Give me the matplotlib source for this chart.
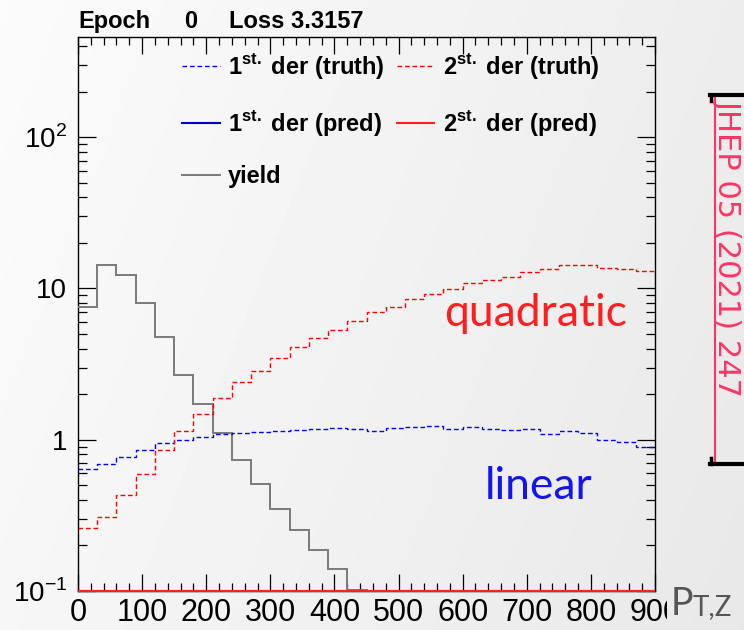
import numpy as np
import matplotlib
matplotlib.use("Agg")
from matplotlib import pyplot as plt
from matplotlib.lines import Line2D
from matplotlib.transforms import Bbox, TransformedBbox
from matplotlib.ticker import MultipleLocator, LogLocator, FuncFormatter, NullFormatter

plt.rcParams['font.family'] = ['Liberation Sans', 'DejaVu Sans']
plt.rcParams['mathtext.fontset'] = 'custom'
plt.rcParams['mathtext.rm'] = 'Liberation Sans'
plt.rcParams['mathtext.bf'] = 'Liberation Sans:bold'

# pT,Z bins (GeV), 30 bins of 30
bin_edges = np.arange(0, 901, 30)

first_der_truth = [0.64, 0.69, 0.77, 0.85, 0.95, 1.00, 1.04, 1.09, 1.11, 1.13,
                   1.14, 1.16, 1.17, 1.19, 1.17, 1.15, 1.19, 1.21, 1.23, 1.18,
                   1.21, 1.17, 1.16, 1.17, 1.09, 1.15, 1.11, 0.99, 0.96, 0.90]
second_der_truth = [0.26, 0.31, 0.43, 0.59, 0.85, 1.14, 1.48, 1.90, 2.42, 2.85,
                    3.47, 4.10, 4.72, 5.33, 6.08, 7.00, 7.55, 8.50, 9.20, 9.90,
                    10.8, 11.3, 12.0, 12.8, 13.5, 14.3, 14.3, 13.6, 13.5, 13.0]
first_der_pred = [0.0] * 30
second_der_pred = [0.0] * 30
yield_vals = [7.57, 14.2, 12.3, 7.98, 4.80, 2.70, 1.72, 1.10, 0.73, 0.513,
              0.348, 0.254, 0.186, 0.140, 0.102, 0, 0, 0, 0, 0,
              0, 0, 0, 0, 0, 0, 0, 0, 0, 0]

ylo, yhi = 0.1, 460

W, H = 744, 630
fig = plt.figure(figsize=(W / 100, H / 100), dpi=100)

# slide background gradient
bg = fig.add_axes([0, 0, 1, 1], zorder=-10)
gx, gy = np.meshgrid(np.linspace(0, 1, 200), np.linspace(0, 1, 200))
grad = 0.985 - 0.075 * (0.75 * gx + 0.25 * gy)
bg.imshow(grad, cmap='gray', vmin=0, vmax=1, aspect='auto', extent=[0, 1, 0, 1], origin='upper')
bg.axis('off')

L, R, B, T = 78, 655, 591, 37
ax = fig.add_axes([L / W, 1 - B / H, (R - L) / W, (B - T) / H])
ax.set_facecolor('none')


def clipped(v):
    return np.clip(np.asarray(v, dtype=float), ylo, None)


dash = (0, (3.4, 2.0))
ax.stairs(clipped(yield_vals), bin_edges, baseline=None, color='#7a7a7a', lw=1.4, label='yield', zorder=3)
ax.stairs(clipped(first_der_truth), bin_edges, baseline=None, color='#0000ff', lw=1.0,
          linestyle=dash, label=r'1$^{\mathbf{st.}}\;$der (truth)', zorder=4)
ax.stairs(clipped(second_der_truth), bin_edges, baseline=None, color='#ff0000', lw=1.0,
          linestyle=dash, label=r'2$^{\mathbf{st.}}\;$der (truth)', zorder=4)
ax.stairs(clipped(first_der_pred), bin_edges, baseline=None, color='#0000cc', lw=1.5,
          label=r'1$^{\mathbf{st.}}\;$der (pred)', zorder=5, clip_on=False)
ax.stairs(clipped(second_der_pred), bin_edges, baseline=None, color='#ff2020', lw=1.5,
          label=r'2$^{\mathbf{st.}}\;$der (pred)', zorder=6, clip_on=False)

ax.set_yscale('log')
ax.set_xlim(0, 900)
ax.set_ylim(ylo, yhi)

ax.xaxis.set_major_locator(MultipleLocator(100))
ax.xaxis.set_minor_locator(MultipleLocator(20))
ax.yaxis.set_major_locator(LogLocator(base=10, numticks=10))
ax.yaxis.set_minor_locator(LogLocator(base=10, subs=np.arange(2, 10), numticks=20))
ax.yaxis.set_minor_formatter(NullFormatter())


def ylab(v, pos):
    labels = {0.1: r'$10^{-1}$', 1: '1', 10: '10', 100: r'$10^{2}$'}
    for k, s in labels.items():
        if abs(v - k) < 1e-9 * max(k, 1):
            return s
    return ''


ax.yaxis.set_major_formatter(FuncFormatter(ylab))

ax.tick_params(which='both', direction='in', top=True, right=True, width=0.9, color='black')
ax.tick_params(axis='x', which='major', length=12, pad=5, labelsize=22)
ax.tick_params(axis='x', which='minor', length=6)
ax.tick_params(axis='y', which='major', length=13, pad=8, labelsize=20)
ax.tick_params(axis='y', which='minor', length=6.5)
for sp in ax.spines.values():
    sp.set_linewidth(1.0)

handles, labels = ax.get_legend_handles_labels()
order = [1, 3, 0, 2, 4]
hnd = [Line2D([], [], color=h.get_edgecolor(), lw=h.get_linewidth(), linestyle=h.get_linestyle())
       for h in handles]
leg = fig.legend([hnd[i] for i in order], [labels[i] for i in order], ncol=2,
                 loc='upper left', bbox_to_anchor=(182 / W, 1 - 51 / H), frameon=False,
                 prop={'weight': 'bold', 'size': 17}, handlelength=1.6, handletextpad=0.35,
                 labelspacing=1.15, columnspacing=0.5, borderpad=0, borderaxespad=0)

# title
fig.text(78 / W, 1 - 28 / H, 'Epoch', fontsize=17, weight='bold', va='baseline')
fig.text(184 / W, 1 - 28 / H, '0', fontsize=17, weight='bold', va='baseline')
fig.text(229 / W, 1 - 28 / H, 'Loss 3.3157', fontsize=17, weight='bold', va='baseline')

# slide annotations
fig.text(627 / W, 1 - 326 / H, 'quadratic', color='#ff1e1e', fontsize=32, family='Lato',
         ha='right', va='baseline')
fig.text(592 / W, 1 - 499 / H, 'linear', color='#1414f0', fontsize=32, family='Lato',
         ha='right', va='baseline')
fig.text(671 / W, 1 - 615 / H, 'P', color='#555555', fontsize=27, family='Lato', va='baseline')
fig.text(693 / W, 1 - 615 / H, 'T,Z', color='#555555', fontsize=20, family='Lato', va='baseline')

fig.text(728 / W, 1 - 99 / H, 'JHEP 05 (2021) 247', color='#ff3366', fontsize=22,
         family='DejaVu Sans', rotation=-90, ha='center', va='top')
fig.add_artist(Line2D([715 / W, 715 / W], [1 - 95 / H, 1 - 462 / H], color='#ff3366', lw=1.5))
fig.add_artist(Line2D([710 / W, 744 / W], [1 - 95 / H, 1 - 95 / H], color='black', lw=3))
fig.add_artist(Line2D([711 / W, 711 / W], [1 - 95 / H, 1 - 101 / H], color='black', lw=2.5))
fig.add_artist(Line2D([710 / W, 744 / W], [1 - 464 / H, 1 - 464 / H], color='black', lw=3))
fig.add_artist(Line2D([711 / W, 711 / W], [1 - 458 / H, 1 - 464 / H], color='black', lw=2.5))

# the slide's axis title hides the end of the last x label
fig.canvas.draw()
for tk in ax.xaxis.get_major_ticks():
    if abs(tk.get_loc() - 900) < 1e-6:
        tk.label1.set_clip_on(True)
        tk.label1.set_clip_box(TransformedBbox(Bbox([[0, 0], [667 / W, 1]]), fig.transFigure))

fig.savefig('out.png', dpi=100)
